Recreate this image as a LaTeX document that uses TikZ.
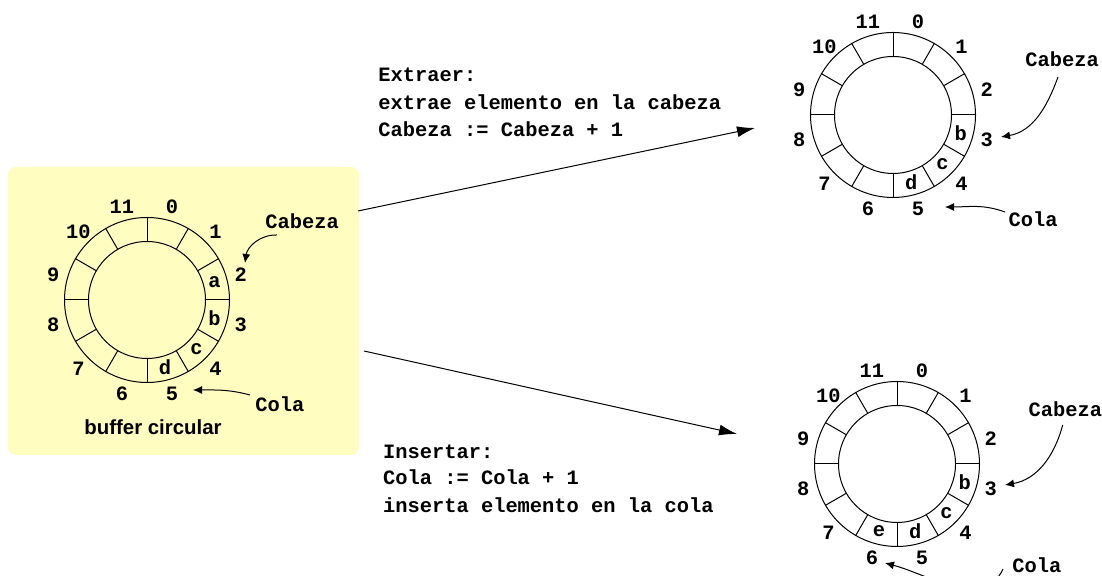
\documentclass[tikz,border=0pt]{standalone}
\usepackage{fontspec}
\setmonofont{Liberation Mono}
\setsansfont{Liberation Sans}
\usetikzlibrary{arrows.meta,calc}
\definecolor{panel}{RGB}{255,253,192}
\tikzset{
  mono/.style={font=\ttfamily\bfseries\fontsize{10.2}{12}\selectfont, inner sep=0pt},
  caption/.style={font=\sffamily\bfseries\fontsize{10.2}{12}\selectfont, inner sep=0pt},
  ringout/.style={circle, draw, line width=0.5pt, minimum size=82.5pt, inner sep=0pt},
  ringin/.style={circle, draw, line width=0.5pt, minimum size=58.5pt, inner sep=0pt},
  divider/.style={line width=0.5pt},
  pointer/.style={line width=0.5pt, -{Latex[length=4.5pt,width=4pt]}},
  bigarrow/.style={line width=0.5pt, -{Latex[length=9pt,width=5.5pt]}},
}
% circular buffer: #1 name prefix, #2 centre, #3 slot/content pairs
\newcommand{\circbuffer}[3]{%
  \node[ringout] (#1o) at (#2) {};
  \node[ringin] (#1i) at (#2) {};
  \foreach \a in {0,30,...,330} \draw[divider] (#1i.\a) -- (#1o.\a);
  \foreach \k in {0,...,11} {%
    \pgfmathsetmacro{\ang}{75-30*\k}
    \node[mono] (#1n\k) at ($(#1o.center)+(\ang:97)$) {\k};
  }
  \foreach \k/\v in {#3} {%
    \pgfmathsetmacro{\ang}{75-30*\k}
    \node[mono] (#1c\k) at ($(#1o.center)+(\ang:70)$) {\v};
  }
}
\begin{document}
\begin{tikzpicture}[x=0.5pt,y=0.5pt]
  \useasboundingbox (0,0) rectangle (1102,576);
  \fill[white] (0,0) rectangle (1102,576);
  \clip (0,0) rectangle (1102,576);

  % yellow panel with the original buffer
  \node[fill=panel, rounded corners=4pt, minimum width=175.5pt, minimum height=144pt, inner sep=0pt] (box) at (183.5,265) {};
  \circbuffer{L}{147,276}{2/a,3/b,4/c,5/d}
  \node[caption] (cap) at (153,149) {buffer circular};
  \node[mono, anchor=base west] (Lcab) at (265,347.7) {Cabeza};
  \node[mono, anchor=base west] (Lcol) at (255,164.3) {Cola};
  \coordinate (Lcabs) at (277,341);
  \coordinate (Lcabt) at (245,313);
  \coordinate (Lcols) at (250,181);
  \coordinate (Lcolt) at (193,186);
  \draw[pointer] (Lcabs) to[out=178,in=82] (Lcabt);
  \draw[pointer] (Lcols) to[out=165,in=0] (Lcolt);

  % after removing the head element
  \circbuffer{T}{893,461}{3/b,4/c,5/d}
  \node[mono, anchor=base west] (Tcab) at (1025,509.3) {Cabeza};
  \node[mono, anchor=base west] (Tcol) at (1008.3,349.3) {Cola};
  \coordinate (Tcabs) at (1058,499);
  \coordinate (Tcabt) at (1001,439);
  \coordinate (Tcols) at (1005,364);
  \coordinate (Tcolt) at (945,369);
  \draw[pointer] (Tcabs) to[out=-110,in=10] (Tcabt);
  \draw[pointer] (Tcols) to[out=160,in=0] (Tcolt);

  % after inserting a new element
  \circbuffer{B}{897,112}{3/b,4/c,5/d,6/e}
  \node[mono, anchor=base west] (Bcab) at (1028.3,159.3) {Cabeza};
  \node[mono, anchor=base west] (Bcol) at (1012,3) {Cola};
  \coordinate (Bcabs) at (1062.7,151);
  \coordinate (Bcabt) at (1005,91);
  \coordinate (Bcols) at (1003,7);
  \coordinate (Bcolt) at (885,13);
  \draw[pointer] (Bcabs) to[out=-105,in=10] (Bcabt);
  \draw[pointer] (Bcols) to[out=-115,in=-15] (Bcolt);

  % operations
  \node[mono, anchor=base west] (ex1) at (378,494.5) {Extraer:};
  \node[mono, anchor=base west] (ex2) at (378,466.7) {extrae elemento en la cabeza};
  \node[mono, anchor=base west] (ex3) at (378,439) {Cabeza := Cabeza + 1};
  \node[mono, anchor=base west] (in1) at (382.7,117.7) {Insertar:};
  \node[mono, anchor=base west] (in2) at (382.7,91) {Cola := Cola + 1};
  \node[mono, anchor=base west] (in3) at (382.7,63.3) {inserta elemento en la cola};

  \coordinate (exS) at (358,365);
  \coordinate (exE) at (755,448);
  \coordinate (inS) at (364,225);
  \coordinate (inE) at (737,142);
  \draw[bigarrow] (exS) -- (exE);
  \draw[bigarrow] (inS) -- (inE);
\end{tikzpicture}
\end{document}
